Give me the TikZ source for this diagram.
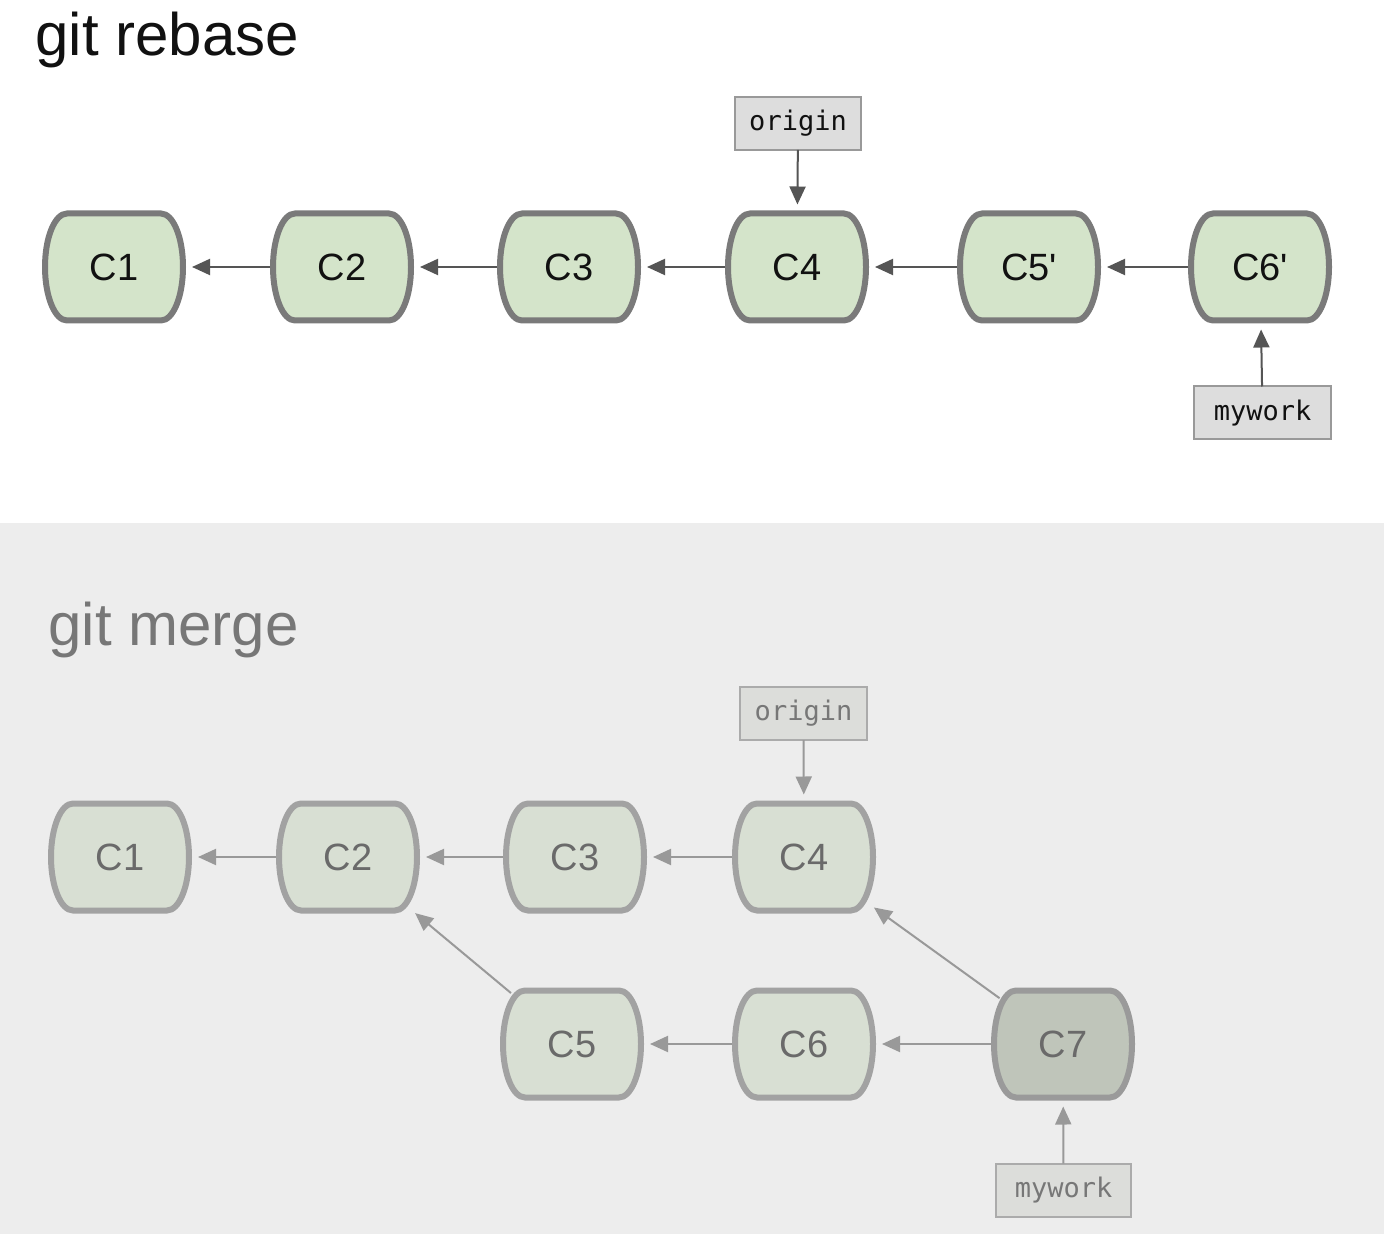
\documentclass[tikz,border=0pt]{standalone}
\usepackage{fontspec}
\setmainfont{Liberation Sans}
\setmonofont{DejaVu Sans Mono}
\newfontfamily\plainsans{Liberation Sans}
\usetikzlibrary{arrows.meta}
\definecolor{bgmerge}{HTML}{EDEDED}
\definecolor{tfill}{HTML}{D4E4CA}
\definecolor{tdraw}{HTML}{7A7A7A}
\definecolor{ttext}{HTML}{111111}
\definecolor{tarrow}{HTML}{555555}
\definecolor{boxfill}{HTML}{DDDDDD}
\definecolor{boxdraw}{HTML}{999999}
\definecolor{mfill}{HTML}{D8DFD3}
\definecolor{mdraw}{HTML}{A2A2A2}
\definecolor{mtext}{HTML}{6A6A6A}
\definecolor{mhfill}{HTML}{BFC5BA}
\definecolor{mhdraw}{HTML}{9A9A9A}
\definecolor{marrow}{HTML}{999999}
\definecolor{mboxfill}{HTML}{DCDDDA}
\definecolor{mboxdraw}{HTML}{ABABAB}
\definecolor{mboxtext}{HTML}{777777}
% #1 name, #2 x, #3 y, #4 label, #5 outline style, #6 text colour
\newcommand\commitnode[6]{%
  \path[#5] ({#2-47},{-#3+53.5}) -- ({#2+47},{-#3+53.5})
    arc[start angle=90,end angle=-90,x radius=22,y radius=53.5]
    -- ({#2-47},{-#3-53.5})
    arc[start angle=270,end angle=90,x radius=22,y radius=53.5] -- cycle;
  \node[cnode,text=#6] (#1) at (#2,-#3) {#4};
}
\begin{document}
\begin{tikzpicture}[x=0.5pt,y=0.5pt,
  cnode/.style={shape=rectangle,minimum width=78pt,minimum height=62.5pt,inner sep=0pt,outer sep=0pt,font=\plainsans\fontsize{19}{20}\selectfont},
  tbarrel/.style={fill=tfill,draw=tdraw,line width=3pt},
  mbarrel/.style={fill=mfill,draw=mdraw,line width=3pt},
  mhbarrel/.style={fill=mhfill,draw=mhdraw,line width=3pt},
  refbox/.style={shape=rectangle,fill=boxfill,draw=boxdraw,line width=1pt,minimum height=26.5pt,inner sep=0pt,outer sep=0pt,font=\ttfamily\fontsize{13.5}{15}\selectfont,text=ttext},
  mrefbox/.style={refbox,fill=mboxfill,draw=mboxdraw,text=mboxtext},
  tarr/.style={draw=tarrow,line width=1pt,-{Triangle[length=9pt,width=8pt]},shorten <=-3pt},
  marr/.style={draw=marrow,line width=1pt,-{Triangle[length=9pt,width=8pt]},shorten <=-3pt},
  diag/.style={shorten <=-9pt,shorten >=-5pt},
  title/.style={anchor=base west,inner sep=0pt,font=\fontsize{30}{32}\selectfont}
]
\useasboundingbox (0,0) rectangle (1384,-1234);
\fill[white] (0,0) rectangle (1384,-523);
\fill[bgmerge] (0,-523) rectangle (1384,-1234);

% ---------- git rebase ----------
\node[title,text=ttext] (trebase) at (35,-56) {git rebase};
\commitnode{r1}{114}{267}{C1}{tbarrel}{ttext}
\commitnode{r2}{342}{267}{C2}{tbarrel}{ttext}
\commitnode{r3}{569}{267}{C3}{tbarrel}{ttext}
\commitnode{r4}{797}{267}{C4}{tbarrel}{ttext}
\commitnode{r5}{1029}{267}{C5'}{tbarrel}{ttext}
\commitnode{r6}{1260}{267}{C6'}{tbarrel}{ttext}
\node[refbox,minimum width=63pt] (rorigin) at (798,-123.5) {origin};
\node[refbox,minimum width=68.5pt] (rmywork) at (1262.5,-413) {mywork};
\draw[tarr] (r2) -- (r1);
\draw[tarr] (r3) -- (r2);
\draw[tarr] (r4) -- (r3);
\draw[tarr] (r5) -- (r4);
\draw[tarr] (r6) -- (r5);
\draw[tarr,shorten <=0pt] (rorigin) -- (r4);
\draw[tarr,shorten <=0pt] (rmywork) -- (r6);

% ---------- git merge ----------
\node[title,text=mboxtext] (tmerge) at (48,-645) {git merge};
\commitnode{m1}{120}{857}{C1}{mbarrel}{mtext}
\commitnode{m2}{348}{857}{C2}{mbarrel}{mtext}
\commitnode{m3}{575}{857}{C3}{mbarrel}{mtext}
\commitnode{m4}{804}{857}{C4}{mbarrel}{mtext}
\commitnode{m5}{572}{1044}{C5}{mbarrel}{mtext}
\commitnode{m6}{804}{1044}{C6}{mbarrel}{mtext}
\commitnode{m7}{1063}{1044}{C7}{mhbarrel}{mtext}
\node[mrefbox,minimum width=63.5pt] (morigin) at (803.5,-713.5) {origin};
\node[mrefbox,minimum width=67.5pt] (mmywork) at (1063.5,-1190) {mywork};
\draw[marr] (m2) -- (m1);
\draw[marr] (m3) -- (m2);
\draw[marr] (m4) -- (m3);
\draw[marr,diag] (m5) -- (m2);
\draw[marr] (m6) -- (m5);
\draw[marr] (m7) -- (m6);
\draw[marr,diag] (m7) -- (m4);
\draw[marr,shorten <=0pt] (morigin) -- (m4);
\draw[marr,shorten <=0pt] (mmywork) -- (m7);
\end{tikzpicture}
\end{document}
